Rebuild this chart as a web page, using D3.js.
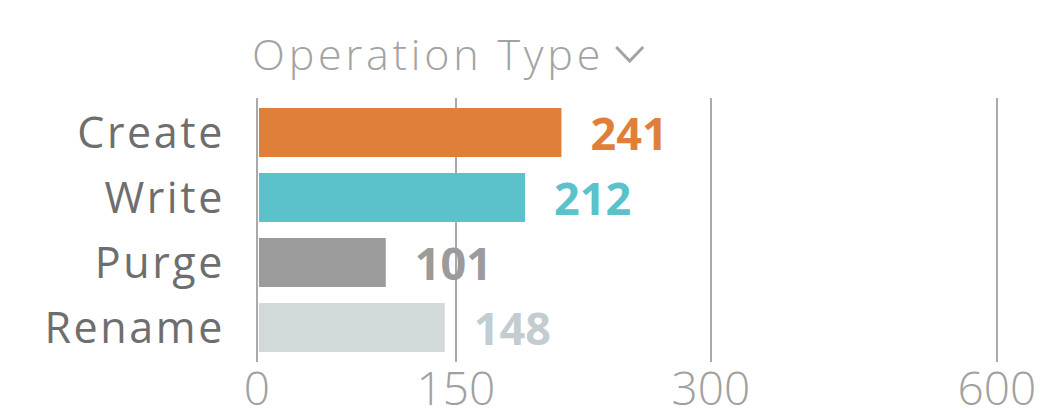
<!DOCTYPE html>
<html lang="en">
<head>
    <meta charset="UTF-8">
    <title>Operation Type</title>
    <script src="https://d3js.org/d3.v7.min.js"></script>
    <style>
        body {
            margin: 0;
            background: #fff;
        }
        svg text {
            font-family: 'Open Sans', sans-serif;
        }
    </style>
</head>
<body>
    <svg width="1052" height="413"></svg>
    <script>
        const categories = ["Create", "Write", "Purge", "Rename"];
        const values = [241, 212, 101, 148];
        const colors = ["#e07f3a", "#5bc2cc", "#9b9b9b", "#d1d9db"];
        const labelColors = ["#e07f3a", "#5bc2cc", "#9b9b9b", "#c3cdd0"];
        const tickValues = [0, 150, 300, 600];

        const svg = d3.select("svg");

        // bars are on a plain linear scale, the grid uses its own uneven spacing
        const x = d3.scaleLinear().domain([0, 600]).range([259, 1012]);
        const grid = d3.scaleLinear()
            .domain(tickValues)
            .range([257, 456, 711, 997]);

        const y = d3.scaleBand()
            .domain(categories)
            .range([100, 360])
            .paddingInner(0.246)
            .paddingOuter(0.123);

        const data = categories.map((c, i) => ({ name: c, value: values[i], color: colors[i], label: labelColors[i] }));

        // title
        const title = svg.append("text")
            .attr("x", 252)
            .attr("y", 70)
            .attr("fill", "#a3a3a3")
            .attr("font-size", 43)
            .attr("font-weight", 300)
            .attr("letter-spacing", 3.8)
            .text("Operation Type");
        const tw = title.node().getComputedTextLength();
        svg.append("path")
            .attr("d", `M${252 + tw + 12},47 l13.5,14 l13.5,-14`)
            .attr("fill", "none")
            .attr("stroke", "#a3a3a3")
            .attr("stroke-width", 3);

        // gridlines
        svg.append("g").selectAll("line")
            .data(tickValues)
            .join("line")
            .attr("x1", d => grid(d))
            .attr("x2", d => grid(d))
            .attr("y1", 98)
            .attr("y2", 362)
            .attr("stroke", "#aaaaaa")
            .attr("stroke-width", 2);

        // tick labels
        svg.append("g").selectAll("text")
            .data(tickValues)
            .join("text")
            .attr("x", d => grid(d))
            .attr("y", 405)
            .attr("text-anchor", "middle")
            .attr("fill", "#a0a0a0")
            .attr("font-size", 46)
            .attr("font-weight", 300)
            .text(d => d);

        // bars
        svg.append("g").selectAll("rect")
            .data(data)
            .join("rect")
            .attr("x", x(0))
            .attr("y", d => y(d.name))
            .attr("width", d => x(d.value) - x(0))
            .attr("height", y.bandwidth())
            .attr("fill", d => d.color);

        // category labels (letter-spacing leaves a trailing gap, so nudge right)
        svg.append("g").selectAll("text")
            .data(data)
            .join("text")
            .attr("x", 225)
            .attr("y", d => y(d.name) + y.bandwidth() / 2 + 15)
            .attr("text-anchor", "end")
            .attr("fill", "#6e6e6e")
            .attr("font-size", 43)
            .attr("letter-spacing", 2.6)
            .text(d => d.name);

        // value labels
        svg.append("g").selectAll("text")
            .data(data)
            .join("text")
            .attr("x", d => x(d.value) + 29)
            .attr("y", d => y(d.name) + y.bandwidth() / 2 + 17)
            .attr("fill", d => d.label)
            .attr("font-size", 45)
            .attr("font-weight", 700)
            .text(d => d.value);
    </script>
</body>
</html>
